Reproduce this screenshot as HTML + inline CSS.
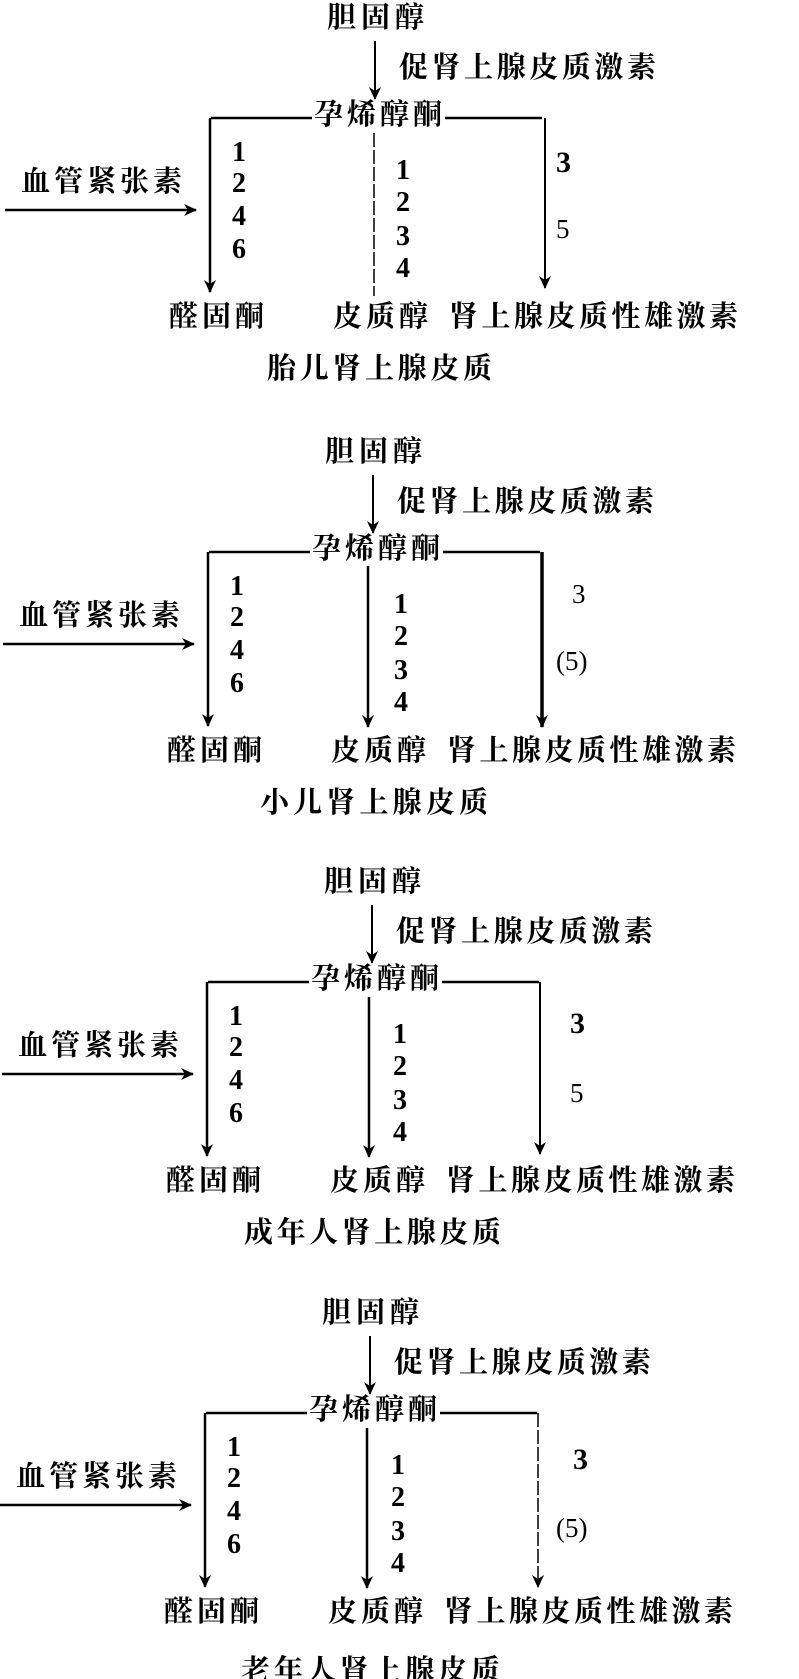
<!DOCTYPE html>
<html><head><meta charset="utf-8"><style>
html,body{margin:0;padding:0;background:#fff}
svg{display:block}
.c{font-family:"Liberation Serif","Noto Serif CJK SC",serif;font-size:29px;font-weight:bold;fill:#000}
.n{font-family:"Liberation Serif",serif;font-size:28px;font-weight:bold;fill:#000}
.t{font-family:"Liberation Serif",serif;font-size:27px;fill:#000}
</style></head><body>
<svg width="799" height="1679" viewBox="0 0 799 1679" xmlns="http://www.w3.org/2000/svg">
<defs>
<marker id="ah" markerWidth="14" markerHeight="12" refX="12" refY="6" orient="auto" markerUnits="userSpaceOnUse">
<path d="M0,0 L13,6 L0,12 L4,6 Z" fill="#000"/></marker>
<g id="common">
<text class="c" x="327" y="27" textLength="97">胆固醇</text>
<line x1="375" y1="41" x2="375" y2="99" stroke="#000" stroke-width="2" marker-end="url(#ah)"/>
<text class="c" x="399" y="77" textLength="257">促肾上腺皮质激素</text>
<text class="c" x="314" y="124" textLength="128">孕烯醇酮</text>
<line x1="211" y1="118" x2="312" y2="118" stroke="#000" stroke-width="2.5"/>
<line x1="445" y1="118" x2="542" y2="118" stroke="#000" stroke-width="2.5"/>
<text class="c" x="21" y="191" textLength="161">血管紧张素</text>
<line x1="5" y1="210" x2="196" y2="210" stroke="#000" stroke-width="2.5" marker-end="url(#ah)"/>
<line x1="210" y1="118" x2="210" y2="292" stroke="#000" stroke-width="2.5" marker-end="url(#ah)"/>
<text class="n" x="232" y="161">1</text><text class="n" x="232" y="192">2</text>
<text class="n" x="232" y="225">4</text><text class="n" x="232" y="258">6</text>
<text class="n" x="396" y="179">1</text><text class="n" x="396" y="211">2</text>
<text class="n" x="396" y="245">3</text><text class="n" x="396" y="277">4</text>
<text class="c" x="169" y="326" textLength="95">醛固酮</text>
<text class="c" x="333" y="326" textLength="95">皮质醇</text>
<text class="c" x="449" y="326" textLength="289">肾上腺皮质性雄激素</text>
</g>
</defs>

<g>
<use href="#common"/>
<line x1="374" y1="133" x2="374" y2="296" stroke="#000" stroke-width="1.5" stroke-dasharray="14,3"/>
<line x1="545" y1="118" x2="545" y2="288" stroke="#000" stroke-width="2" marker-end="url(#ah)"/>
<text class="n" x="556" y="172" style="font-size:30px">3</text>
<text class="t" x="556" y="238">5</text>
<text class="c" x="267" y="378" textLength="225">胎儿肾上腺皮质</text>
</g>

<g transform="translate(-2,434)">
<use href="#common"/>
<line x1="370" y1="132" x2="370" y2="293" stroke="#000" stroke-width="2.5" marker-end="url(#ah)"/>
<line x1="544" y1="118" x2="544" y2="293" stroke="#000" stroke-width="3.5" marker-end="url(#ah)"/>
<text class="t" x="574" y="169">3</text>
<text class="t" x="558" y="236">(5)</text>
<text class="c" x="262" y="378" textLength="228">小儿肾上腺皮质</text>
</g>

<g transform="translate(-3,864)">
<use href="#common"/>
<line x1="372" y1="133" x2="372" y2="293" stroke="#000" stroke-width="2.5" marker-end="url(#ah)"/>
<line x1="543" y1="118" x2="543" y2="290" stroke="#000" stroke-width="2" marker-end="url(#ah)"/>
<text class="n" x="573" y="169" style="font-size:30px">3</text>
<text class="t" x="573" y="238">5</text>
<text class="c" x="247" y="378" textLength="257">成年人肾上腺皮质</text>
</g>

<g transform="translate(-5,1295)">
<use href="#common"/>
<line x1="372" y1="133" x2="372" y2="293" stroke="#000" stroke-width="2.5" marker-end="url(#ah)"/>
<line x1="543" y1="118" x2="543" y2="292" stroke="#000" stroke-width="1.5" stroke-dasharray="14,3" marker-end="url(#ah)"/>
<text class="n" x="578" y="174" style="font-size:30px">3</text>
<text class="t" x="561" y="242">(5)</text>
<text class="c" x="246" y="385" textLength="259">老年人肾上腺皮质</text>
</g>
</svg>
</body></html>
